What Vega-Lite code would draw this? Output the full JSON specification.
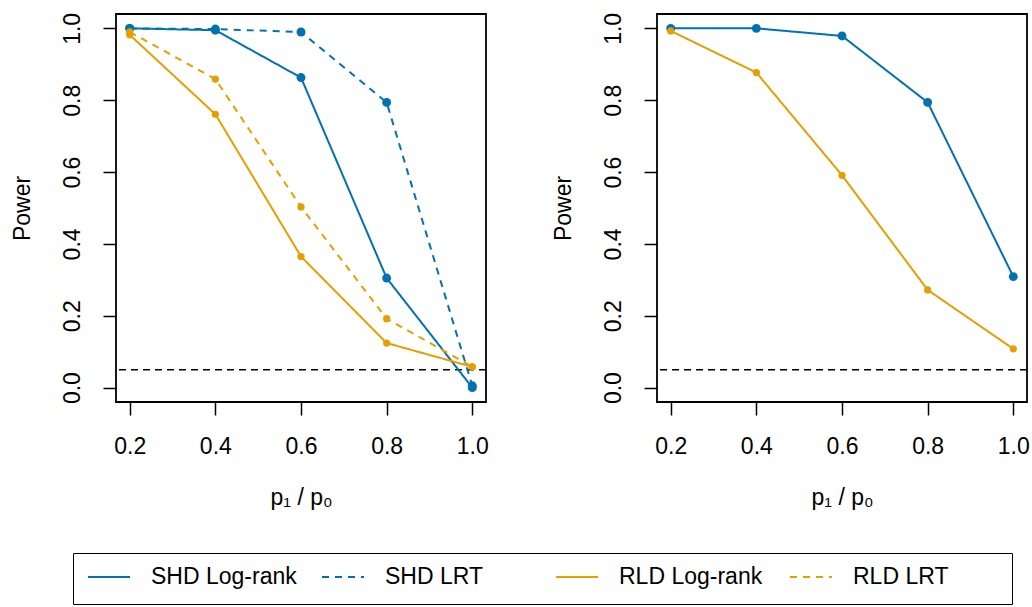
{
  "$schema": "https://vega.github.io/schema/vega-lite/v6.json",
  "background": "white",
  "autosize": {"type": "pad"},
  "padding": {"left": 10, "top": 11, "right": 0, "bottom": 0},
  "bounds": "flush",
  "spacing": 171,
  "datasets": {
    "power": [
      {"panel": "A", "series": "SHD Log-rank", "ratio": 0.2, "power": 1.0},
      {"panel": "A", "series": "SHD Log-rank", "ratio": 0.4, "power": 0.995},
      {"panel": "A", "series": "SHD Log-rank", "ratio": 0.6, "power": 0.863},
      {"panel": "A", "series": "SHD Log-rank", "ratio": 0.8, "power": 0.305},
      {"panel": "A", "series": "SHD Log-rank", "ratio": 1.0, "power": 0.0},
      {"panel": "A", "series": "SHD LRT", "ratio": 0.2, "power": 1.0},
      {"panel": "A", "series": "SHD LRT", "ratio": 0.4, "power": 0.998},
      {"panel": "A", "series": "SHD LRT", "ratio": 0.6, "power": 0.99},
      {"panel": "A", "series": "SHD LRT", "ratio": 0.8, "power": 0.794},
      {"panel": "A", "series": "SHD LRT", "ratio": 1.0, "power": 0.005},
      {"panel": "A", "series": "RLD Log-rank", "ratio": 0.2, "power": 0.982},
      {"panel": "A", "series": "RLD Log-rank", "ratio": 0.4, "power": 0.761},
      {"panel": "A", "series": "RLD Log-rank", "ratio": 0.6, "power": 0.365},
      {"panel": "A", "series": "RLD Log-rank", "ratio": 0.8, "power": 0.124},
      {"panel": "A", "series": "RLD Log-rank", "ratio": 1.0, "power": 0.058},
      {"panel": "A", "series": "RLD LRT", "ratio": 0.2, "power": 0.99},
      {"panel": "A", "series": "RLD LRT", "ratio": 0.4, "power": 0.859},
      {"panel": "A", "series": "RLD LRT", "ratio": 0.6, "power": 0.503},
      {"panel": "A", "series": "RLD LRT", "ratio": 0.8, "power": 0.192},
      {"panel": "A", "series": "RLD LRT", "ratio": 1.0, "power": 0.058},
      {"panel": "B", "series": "SHD Log-rank", "ratio": 0.2, "power": 1.0},
      {"panel": "B", "series": "SHD Log-rank", "ratio": 0.4, "power": 1.0},
      {"panel": "B", "series": "SHD Log-rank", "ratio": 0.6, "power": 0.979},
      {"panel": "B", "series": "SHD Log-rank", "ratio": 0.8, "power": 0.794},
      {"panel": "B", "series": "SHD Log-rank", "ratio": 1.0, "power": 0.309},
      {"panel": "B", "series": "RLD Log-rank", "ratio": 0.2, "power": 0.993},
      {"panel": "B", "series": "RLD Log-rank", "ratio": 0.4, "power": 0.877},
      {"panel": "B", "series": "RLD Log-rank", "ratio": 0.6, "power": 0.591},
      {"panel": "B", "series": "RLD Log-rank", "ratio": 0.8, "power": 0.272},
      {"panel": "B", "series": "RLD Log-rank", "ratio": 1.0, "power": 0.108}
    ]
  },
  "config": {
    "font": "Liberation Sans",
    "view": {"stroke": "black", "strokeWidth": 1.8},
    "axis": {
      "domain": false, "grid": false, "ticks": true,
      "tickColor": "black", "tickWidth": 1.5, "tickSize": 13,
      "labelFont": "Liberation Sans", "labelFontSize": 23, "labelColor": "black",
      "titleFont": "Liberation Sans", "titleFontSize": 23, "titleFontWeight": "normal", "titleColor": "black",
      "labelOverlap": false, "labelFlush": false, "labelBound": false
    },
    "axisX": {"labelPadding": 20, "titlePadding": 28},
    "axisY": {"labelPadding": 19, "titlePadding": 27, "labelAngle": 270, "labelAlign": "center", "labelBaseline": "bottom"},
    "legend": {
      "symbolType": "stroke", "symbolSize": 1764, "symbolStrokeWidth": 2,
      "labelFont": "Liberation Sans", "labelFontSize": 23, "labelColor": "black",
      "labelOffset": 20, "columnPadding": 24, "padding": 14, "clipHeight": 20,
      "titleFont": "Liberation Sans", "titleFontSize": 23, "titleOrient": "right", "titlePadding": 50,
      "strokeColor": "black", "gridAlign": "all", "labelLimit": 400
    }
  },
  "hconcat": [
    {
      "width": 370, "height": 388,
      "layer": [
        {
          "data": {"values": [{}]},
          "mark": {"type": "rule", "color": "black", "strokeDash": [7, 5], "strokeWidth": 1.5},
          "encoding": {"y": {"datum": 0.05, "type": "quantitative", "title": "Power", "scale": {"domain": [-0.04, 1.04], "nice": false, "zero": false}}}
        },
        {
          "data": {"name": "power"},
          "transform": [{"filter": "datum.panel === 'A'"}],
          "mark": {"type": "line", "strokeWidth": 2},
          "encoding": {
            "x": {"field": "ratio", "type": "quantitative", "title": "p₁ / p₀", "scale": {"domain": [0.168, 1.032], "nice": false, "zero": false}, "axis": {"values": [0.2, 0.4, 0.6, 0.8, 1.0], "format": ".1f"}},
            "y": {"field": "power", "type": "quantitative", "title": "Power", "scale": {"domain": [-0.04, 1.04], "nice": false, "zero": false}, "axis": {"values": [0, 0.2, 0.4, 0.6, 0.8, 1.0], "format": ".1f"}},
            "color": {"field": "series", "type": "nominal", "scale": {"domain": ["SHD Log-rank", "SHD LRT", "RLD Log-rank", "RLD LRT"], "range": ["#0072B2", "#0072B2", "#E69F00", "#E69F00"]}, "legend": {"orient": "none", "direction": "horizontal", "columns": 4, "gridAlign": "all", "title": " ", "legendX": -43, "legendY": 539}},
            "strokeDash": {"field": "series", "type": "nominal", "scale": {"domain": ["SHD Log-rank", "SHD LRT", "RLD Log-rank", "RLD LRT"], "range": [[1, 0], [7, 6], [1, 0], [7, 6]]}, "legend": {"orient": "none", "direction": "horizontal", "columns": 4, "gridAlign": "all", "title": " ", "legendX": -43, "legendY": 539}}
          }
        },
        {
          "data": {"name": "power"},
          "transform": [{"filter": "datum.panel === 'A' && (datum.series === 'SHD Log-rank' || datum.series === 'SHD LRT')"}],
          "mark": {"type": "circle", "size": 80, "opacity": 1},
          "encoding": {
            "x": {"field": "ratio", "type": "quantitative", "title": "p₁ / p₀"},
            "y": {"field": "power", "type": "quantitative", "title": "Power"},
            "color": {"field": "series", "type": "nominal"}
          }
        },
        {
          "data": {"name": "power"},
          "transform": [{"filter": "datum.panel === 'A' && (datum.series === 'RLD Log-rank' || datum.series === 'RLD LRT')"}],
          "mark": {"type": "circle", "size": 52, "opacity": 1},
          "encoding": {
            "x": {"field": "ratio", "type": "quantitative", "title": "p₁ / p₀"},
            "y": {"field": "power", "type": "quantitative", "title": "Power"},
            "color": {"field": "series", "type": "nominal"}
          }
        }
      ]
    },
    {
      "width": 370, "height": 388,
      "layer": [
        {
          "data": {"values": [{}]},
          "mark": {"type": "rule", "color": "black", "strokeDash": [7, 5], "strokeWidth": 1.5},
          "encoding": {"y": {"datum": 0.05, "type": "quantitative", "title": "Power", "scale": {"domain": [-0.04, 1.04], "nice": false, "zero": false}}}
        },
        {
          "data": {"name": "power"},
          "transform": [{"filter": "datum.panel === 'B'"}],
          "mark": {"type": "line", "strokeWidth": 2},
          "encoding": {
            "x": {"field": "ratio", "type": "quantitative", "title": "p₁ / p₀", "scale": {"domain": [0.168, 1.032], "nice": false, "zero": false}, "axis": {"values": [0.2, 0.4, 0.6, 0.8, 1.0], "format": ".1f"}},
            "y": {"field": "power", "type": "quantitative", "title": "Power", "scale": {"domain": [-0.04, 1.04], "nice": false, "zero": false}, "axis": {"values": [0, 0.2, 0.4, 0.6, 0.8, 1.0], "format": ".1f"}},
            "color": {"field": "series", "type": "nominal"},
            "strokeDash": {"field": "series", "type": "nominal"}
          }
        },
        {
          "data": {"name": "power"},
          "transform": [{"filter": "datum.panel === 'B' && datum.series === 'SHD Log-rank'"}],
          "mark": {"type": "circle", "size": 80, "opacity": 1},
          "encoding": {
            "x": {"field": "ratio", "type": "quantitative", "title": "p₁ / p₀"},
            "y": {"field": "power", "type": "quantitative", "title": "Power"},
            "color": {"field": "series", "type": "nominal"}
          }
        },
        {
          "data": {"name": "power"},
          "transform": [{"filter": "datum.panel === 'B' && datum.series === 'RLD Log-rank'"}],
          "mark": {"type": "circle", "size": 52, "opacity": 1},
          "encoding": {
            "x": {"field": "ratio", "type": "quantitative", "title": "p₁ / p₀"},
            "y": {"field": "power", "type": "quantitative", "title": "Power"},
            "color": {"field": "series", "type": "nominal"}
          }
        }
      ]
    }
  ]
}
